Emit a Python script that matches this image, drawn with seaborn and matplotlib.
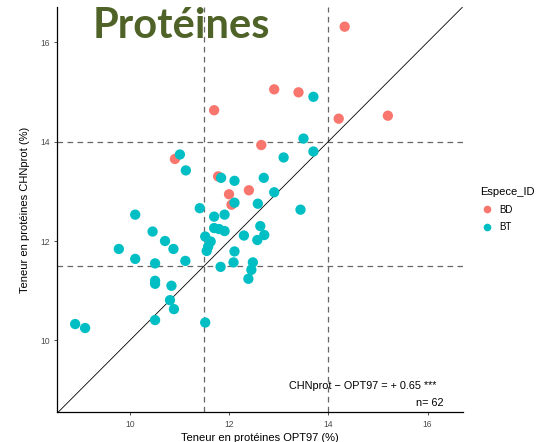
import matplotlib
matplotlib.use("Agg")
import matplotlib.pyplot as plt
from matplotlib.lines import Line2D
import seaborn as sns
import pandas as pd

# ---- data ----
species = ["BD", "BT"]
bd_x = [14.33, 12.91, 13.40, 11.70, 14.21, 15.20, 12.65, 10.91, 11.78, 12.00, 12.40, 12.05]
bd_y = [16.31, 15.05, 14.99, 14.63, 14.46, 14.52, 13.93, 13.65, 13.30, 12.94, 13.02, 12.73]
bt_x = [13.70, 13.50, 13.70, 13.10, 11.01, 11.13, 11.84, 12.11, 12.70, 12.91,
        12.11, 12.58, 11.41, 13.44, 11.70, 11.91, 11.70, 11.80, 11.91, 12.63,
        11.52, 12.30, 12.57, 12.71, 11.63, 11.58, 11.55, 12.11, 11.83, 12.09,
        12.48, 12.45, 12.39, 11.52, 10.46, 10.71, 10.88, 9.78, 10.11, 10.51,
        11.12, 10.51, 10.51, 10.84, 10.81, 10.89, 10.51, 8.90, 9.10, 10.11]
bt_y = [14.90, 14.06, 13.80, 13.68, 13.74, 13.42, 13.27, 13.21, 13.27, 12.98,
        12.77, 12.75, 12.66, 12.63, 12.49, 12.53, 12.26, 12.24, 12.20, 12.30,
        12.09, 12.11, 12.02, 12.12, 11.99, 11.89, 11.80, 11.79, 11.48, 11.57,
        11.57, 11.42, 11.24, 10.36, 12.19, 12.00, 11.84, 11.84, 11.64, 11.55,
        11.60, 11.20, 11.14, 11.10, 10.81, 10.63, 10.41, 10.33, 10.25, 12.53]
ref_x = [11.5, 14]
ref_y = [11.5, 14]
x_ticks = [10, 12, 14, 16]
y_ticks = [10, 12, 14, 16]
mean_diff = 0.65
n_obs = 62
colors = {"BD": "#F8766D", "BT": "#00BFC4"}

df = pd.DataFrame({
    "OPT97": bd_x + bt_x,
    "CHNprot": bd_y + bt_y,
    "Espece_ID": ["BD"] * len(bd_x) + ["BT"] * len(bt_x),
})

W, H = 539, 442
fig = plt.figure(figsize=(W / 100, H / 100), dpi=100)
L, R, B, T = 57.3, 463.3, 412.3, 7.3
ax = fig.add_axes([L / W, 1 - B / H, (R - L) / W, (B - T) / H])

sns.scatterplot(data=df, x="OPT97", y="CHNprot", hue="Espece_ID",
                hue_order=species, palette=colors, s=55, linewidth=0,
                alpha=1, ax=ax, legend=False, zorder=3)

ax.set_xlim(8.54, 16.72)
ax.set_ylim(8.555, 16.70)
ax.axline((10, 10), slope=1, color="black", lw=0.6, zorder=2)
for v in ref_x:
    ax.axvline(v, color="#666666", lw=0.9, ls=(0, (4.5, 3.5)), zorder=1)
for v in ref_y:
    ax.axhline(v, color="#666666", lw=0.9, ls=(0, (4.5, 3.5)), zorder=1)

ax.set_xticks(x_ticks)
ax.set_yticks(y_ticks)
for s in ["top", "right"]:
    ax.spines[s].set_visible(False)
for s in ["left", "bottom"]:
    ax.spines[s].set_linewidth(0.9)
    ax.spines[s].set_color("black")
ax.tick_params(axis="both", length=2.5, width=0.6, color="#333333",
               labelsize=6.2, labelcolor="#4D4D4D", pad=3)
ax.set_facecolor("white")

font = "Liberation Sans"
for lab in ax.get_xticklabels() + ax.get_yticklabels():
    lab.set_family(font)
ax.set_xlabel("Teneur en protéines OPT97 (%)", family=font, fontsize=8, labelpad=3)
ax.set_ylabel("Teneur en protéines CHNprot (%)", family=font, fontsize=8, labelpad=7)

ax.text(0.9345, 0.065, f"CHNprot − OPT97 = + {mean_diff:.2f} ***",
        transform=ax.transAxes, ha="right", va="center", family=font, fontsize=7.8)
ax.text(0.9507, 0.0237, f"n= {n_obs}",
        transform=ax.transAxes, ha="right", va="center", family=font, fontsize=7.8)

fig.text(181 / W, 1 - 26 / H, "Protéines", ha="center", va="center",
         family="Lato", fontweight="bold", fontsize=30, color="#4F6228")

handles = [Line2D([], [], ls="", marker="o", markersize=5.5, markeredgewidth=0,
                  color=colors[k]) for k in species]
leg = fig.legend(handles, species, title="Espece_ID", loc="upper left",
                 bbox_to_anchor=(476 / W, 1 - 183 / H), frameon=False,
                 alignment="left", handlelength=1.5, handletextpad=0.5,
                 labelspacing=0.8, borderaxespad=0,
                 prop={"family": font, "size": 7},
                 title_fontproperties={"family": font, "size": 8})

fig.savefig("out.png", dpi=100, facecolor="white")
